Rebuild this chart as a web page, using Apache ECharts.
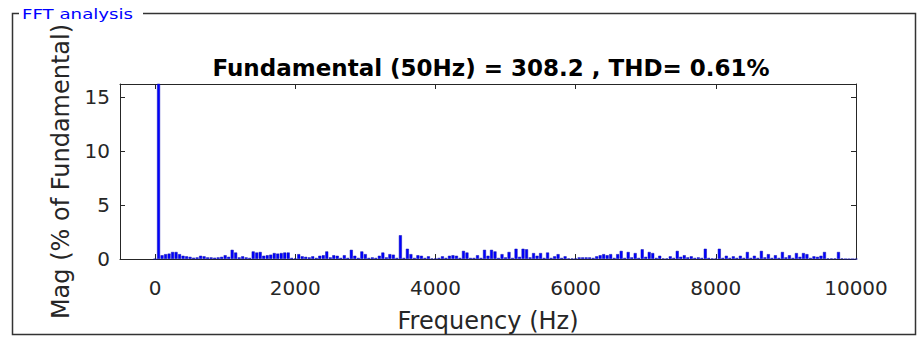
<!DOCTYPE html>
<html>
<head>
<meta charset="utf-8">
<script src="https://cdn.jsdelivr.net/npm/echarts@6/dist/echarts.min.js"></script>
<style>
html,body{margin:0;padding:0;background:#fff;}
#chart{width:919px;height:339px;}
</style>
</head>
<body>
<div id="chart"></div>
<script>
// ---- data ----
const panelTitle = 'FFT analysis';
const chartTitle = 'Fundamental (50Hz) = 308.2 , THD= 0.61%';
const xAxisName = 'Frequency (Hz)';
const yAxisName = 'Mag (% of Fundamental)';
const xTickLabels = [0, 2000, 4000, 6000, 8000, 10000];
const yTickLabels = [0, 5, 10, 15];
const binStepHz = 50; // FFT resolution: one bin per 50 Hz
// magnitude (% of fundamental) per 50 Hz bin, bin 0 = DC, bin 1 = fundamental
const magnitudes = [
  0, 100, 0.35, 0.45, 0.5, 0.65, 0.65, 0.45, 0.3, 0.25,
  0.2, 0.12, 0.15, 0.3, 0.25, 0.15, 0.15, 0.12, 0.15, 0.2,
  0.35, 0.2, 0.85, 0.6, 0.15, 0.25, 0.15, 0.1, 0.7, 0.6,
  0.65, 0.3, 0.35, 0.4, 0.55, 0.5, 0.55, 0.6, 0.6, 0.1,
  0.05, 0.45, 0.25, 0.2, 0.15, 0.25, 0.1, 0.3, 0.35, 0.7,
  0.15, 0.35, 0.3, 0.1, 0.35, 0.1, 0.85, 0.3, 0.1, 0.7,
  0.45, 0.1, 0.15, 0.1, 0.3, 0.6, 0.15, 0.45, 0.4, 0.1,
  2.2, 0.1, 0.95, 0.45, 0.1, 0.35, 0.3, 0.1, 0.25, 0.05,
  0.05, 0.1, 0.25, 0.1, 0.3, 0.35, 0.3, 0.1, 0.75, 0.6,
  0.1, 0.1, 0.35, 0.1, 0.85, 0.3, 0.85, 0.7, 0.1, 0.45,
  0.15, 0.65, 0.1, 0.95, 0.2, 0.95, 0.9, 0.15, 0.55, 0.3,
  0.55, 0.1, 0.6, 0.1, 0.25, 0.45, 0.1, 0.25, 0.05, 0.05,
  0.05, 0.15, 0.15, 0.15, 0.15, 0.1, 0.25, 0.35, 0.45, 0.35,
  0.45, 0.1, 0.45, 0.75, 0.1, 0.65, 0.15, 0.55, 0.1, 0.9,
  0.2, 0.65, 0.55, 0.1, 0.3, 0.05, 0.05, 0.25, 0.1, 0.75,
  0.2, 0.35, 0.15, 0.25, 0.1, 0.15, 0.1, 0.95, 0.1, 0.05,
  0.05, 0.95, 0.1, 0.3, 0.1, 0.25, 0.1, 0.3, 0.1, 0.65,
  0.1, 0.3, 0.1, 0.75, 0.15, 0.45, 0.1, 0.35, 0.1, 0.65,
  0.15, 0.35, 0.1, 0.55, 0.2, 0.55, 0.45, 0.1, 0.25, 0.2,
  0.3, 0.65, 0.05, 0.05, 0.05, 0.65, 0.05, 0, 0, 0,
  0
];

// ---- chart ----
const FONT = 'DejaVu Sans';
const AX = '#262626';
const chart = echarts.init(document.getElementById('chart'), null, {renderer: 'svg'});
const barData = magnitudes.map((v, i) => [i * binStepHz, v]);
const plain = v => String(v);

const tickStyle = {show: true, inside: true, length: 5, lineStyle: {color: AX, width: 1}};
const lineStyle = {show: true, onZero: false, lineStyle: {color: AX, width: 1}};

chart.setOption({
  animation: false,
  backgroundColor: '#fff',
  title: {
    text: chartTitle,
    left: 486,
    top: 51,
    textAlign: 'center',
    textStyle: {fontFamily: FONT, fontWeight: 'bold', fontSize: 23, color: '#000'}
  },
  grid: {left: 120, right: 63, top: 84, bottom: 80},
  xAxis: [
    {
      type: 'value', min: -500, max: 10000, position: 'bottom',
      axisLine: lineStyle,
      axisTick: Object.assign({customValues: xTickLabels}, tickStyle),
      axisLabel: {customValues: xTickLabels, formatter: plain, fontFamily: FONT, fontSize: 20, color: AX, margin: 19},
      splitLine: {show: false},
      name: xAxisName, nameLocation: 'middle', nameGap: 50,
      nameTextStyle: {fontFamily: FONT, fontSize: 24, color: AX}
    },
    {
      type: 'value', min: -500, max: 10000, position: 'top',
      axisLine: lineStyle,
      axisTick: Object.assign({customValues: xTickLabels}, tickStyle),
      axisLabel: {show: false},
      splitLine: {show: false}
    }
  ],
  yAxis: [
    {
      type: 'value', min: 0, max: 16.2, position: 'left',
      axisLine: lineStyle,
      axisTick: Object.assign({customValues: yTickLabels}, tickStyle),
      axisLabel: {customValues: yTickLabels, formatter: plain, fontFamily: FONT, fontSize: 20, color: AX, margin: 10},
      splitLine: {show: false},
      name: yAxisName, nameLocation: 'middle', nameGap: 47,
      nameTextStyle: {fontFamily: FONT, fontSize: 24, color: AX}
    },
    {
      type: 'value', min: 0, max: 16.2, position: 'right',
      axisLine: lineStyle,
      axisTick: Object.assign({customValues: yTickLabels}, tickStyle),
      axisLabel: {show: false},
      splitLine: {show: false}
    }
  ],
  series: [{
    type: 'bar',
    xAxisIndex: 0, yAxisIndex: 0,
    data: barData,
    barWidth: 3,
    clip: true,
    itemStyle: {color: '#0000ff', borderColor: '#1010b0', borderWidth: 0.5},
    z: 1
  }],
  graphic: [
    {
      type: 'rect', silent: true, z: 0,
      shape: {x: 12.5, y: 13.5, width: 903, height: 321},
      style: {fill: 'none', stroke: '#333', lineWidth: 1.5}
    },
    {
      type: 'rect', silent: true, z: 1,
      shape: {x: 19, y: 4, width: 124, height: 18},
      style: {fill: '#fff', stroke: 'none'}
    },
    {
      type: 'text', silent: true, z: 2,
      x: 22, y: 14, scaleX: 1.3, scaleY: 1, originX: 0, originY: 0,
      style: {text: panelTitle, fill: '#0000ff', fontFamily: FONT, fontSize: 14,
              verticalAlign: 'middle', align: 'left'}
    }
  ]
});
</script>
</body>
</html>
